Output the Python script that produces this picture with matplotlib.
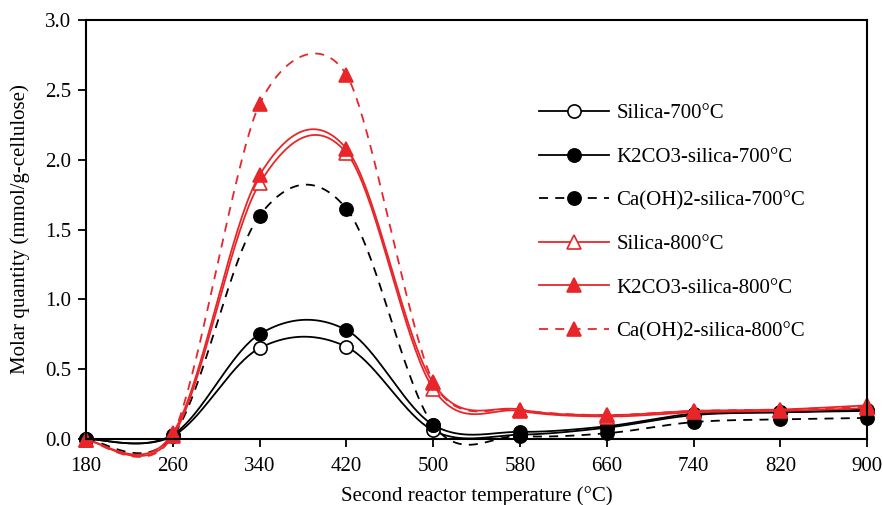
import numpy as np
import matplotlib
matplotlib.use("Agg")
import matplotlib.pyplot as plt

plt.rcParams['font.family'] = ['Liberation Serif', 'DejaVu Serif']

temps = [180, 260, 340, 420, 500, 580, 660, 740, 820, 900]
silica_700 = [0.00, 0.02, 0.65, 0.66, 0.06, 0.03, 0.08, 0.17, 0.19, 0.20]
k2co3_700 = [0.00, 0.03, 0.75, 0.78, 0.10, 0.05, 0.09, 0.18, 0.19, 0.21]
caoh2_700 = [0.00, 0.02, 1.60, 1.65, 0.10, 0.02, 0.04, 0.12, 0.14, 0.15]
silica_800 = [-0.01, 0.02, 1.83, 2.05, 0.36, 0.20, 0.16, 0.19, 0.20, 0.22]
k2co3_800 = [-0.01, 0.04, 1.89, 2.08, 0.40, 0.21, 0.17, 0.20, 0.21, 0.24]
caoh2_800 = [-0.01, 0.03, 2.40, 2.61, 0.41, 0.21, 0.17, 0.20, 0.21, 0.23]

labels = ["Silica-700°C", "K2CO3-silica-700°C", "Ca(OH)2-silica-700°C",
          "Silica-800°C", "K2CO3-silica-800°C", "Ca(OH)2-silica-800°C"]

RED = '#E8262A'


def smooth(x, y, n=40, f=1 / 6):
    x = np.asarray(x, float)
    y = np.asarray(y, float)
    xs, ys = [], []
    m = len(x)
    for i in range(m - 1):
        p0 = (x[max(i - 1, 0)], y[max(i - 1, 0)])
        p1 = (x[i], y[i])
        p2 = (x[i + 1], y[i + 1])
        p3 = (x[min(i + 2, m - 1)], y[min(i + 2, m - 1)])
        c1 = (p1[0] + (p2[0] - p0[0]) * f, p1[1] + (p2[1] - p0[1]) * f)
        c2 = (p2[0] - (p3[0] - p1[0]) * f, p2[1] - (p3[1] - p1[1]) * f)
        t = np.linspace(0, 1, n)
        bx = (1 - t) ** 3 * p1[0] + 3 * (1 - t) ** 2 * t * c1[0] + 3 * (1 - t) * t ** 2 * c2[0] + t ** 3 * p2[0]
        by = (1 - t) ** 3 * p1[1] + 3 * (1 - t) ** 2 * t * c1[1] + 3 * (1 - t) * t ** 2 * c2[1] + t ** 3 * p2[1]
        xs.extend(bx)
        ys.extend(by)
    return np.array(xs), np.array(ys)


fig = plt.figure(figsize=(8.83, 5.05), dpi=100)
ax = fig.add_axes([0.0974, 0.131, 0.8846, 0.829])

series = [
    (silica_700, 'black', '-', 'o', 'white', 1 / 6),
    (k2co3_700, 'black', '-', 'o', 'black', 1 / 6),
    (caoh2_700, 'black', '--', 'o', 'black', 1 / 6),
    (silica_800, RED, '-', '^', 'white', 1 / 6),
    (k2co3_800, RED, '-', '^', RED, 1 / 6),
    (caoh2_800, RED, '--', '^', RED, 0.14),
]

handles = []
for (vals, col, ls, mk, fc, f), lab in zip(series, labels):
    sx, sy = smooth(temps, vals, f=f)
    line_kw = dict(color=col, lw=1.3)
    if ls == '--':
        line_kw['dashes'] = (5, 4)
    ax.plot(sx, sy, clip_on=False, **line_kw)
    ax.plot(temps, vals, linestyle='none', marker=mk, markersize=9.5,
            markerfacecolor=fc, markeredgecolor=col, markeredgewidth=1.2,
            clip_on=False)
    h, = ax.plot([], [], marker=mk, markersize=9.5, markerfacecolor=fc,
                 markeredgecolor=col, markeredgewidth=1.2, label=lab, **line_kw)
    handles.append(h)

ax.set_xlim(180, 900)
ax.set_ylim(0, 3.0)
ax.set_xticks(np.arange(180, 901, 80))
ax.set_yticks(np.arange(0, 3.01, 0.5))
ax.set_yticklabels([f"{v:.1f}" for v in np.arange(0, 3.01, 0.5)])
ax.tick_params(labelsize=15, direction='out', length=5.5, width=1.3)
ax.tick_params(axis='x', pad=7.5)
ax.tick_params(axis='y', pad=5)
for s in ax.spines.values():
    s.set_linewidth(1.5)
ax.set_xlabel("Second reactor temperature (°C)", fontsize=15, labelpad=7.5)
ax.set_ylabel("Molar quantity (mmol/g-cellulose)", fontsize=15, labelpad=11)

leg = ax.legend(handles=handles, loc='upper left', bbox_to_anchor=(0.556, 0.845),
                frameon=False, fontsize=15, handlelength=3.35, labelspacing=1.15,
                handletextpad=0.35)

fig.savefig("out.png", dpi=100)
